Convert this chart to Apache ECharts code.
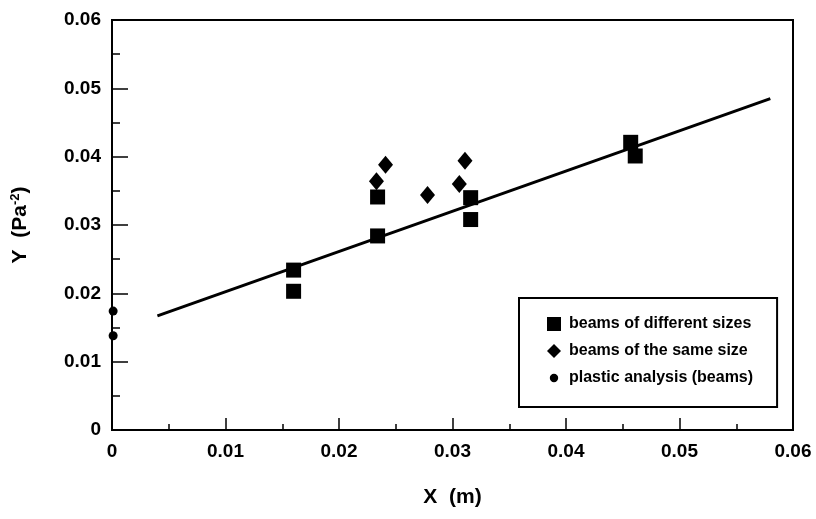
<!DOCTYPE html>
<html>
<head>
<meta charset="utf-8">
<script src="https://cdn.jsdelivr.net/npm/echarts@6/dist/echarts.min.js"></script>
<style>
  html, body { margin: 0; padding: 0; background: #fff; }
  #echarts_container { width: 816px; height: 519px; }
</style>
</head>
<body>
<div id="echarts_container"></div>
<script>
var chartDom = document.getElementById('echarts_container');
var myChart = echarts.init(chartDom);
var option;

// beams of different sizes (squares)
let diffX = [0.0160, 0.0160, 0.0234, 0.0234, 0.0316, 0.0316, 0.0457, 0.0461]
let diffY = [0.0234, 0.0203, 0.0284, 0.0341, 0.0340, 0.0308, 0.0421, 0.0401]
// beams of the same size (diamonds)
let sameX = [0.0233, 0.0241, 0.0278, 0.0306, 0.0311]
let sameY = [0.0364, 0.0388, 0.0344, 0.0360, 0.0394]
// plastic analysis (circles)
let plasticX = [0.0001, 0.0001]
let plasticY = [0.0174, 0.0138]
// fitted line ends
let fitX = [0.004, 0.058]
let fitY = [0.0167, 0.0485]

const pairs = (xs, ys) => xs.map((x, i) => [x, ys[i]])

const fontName = 'Liberation Sans, Arial, sans-serif'
const tickFmt = v => v === 0 ? '0' : v.toFixed(2)

option = {
    animation: false,
    backgroundColor: '#fff',
    grid: {
        left: 112,
        right: 23,
        top: 20,
        bottom: 89,
        show: true,
        borderColor: '#000',
        borderWidth: 2
    },
    legend: {
        orient: 'vertical',
        left: 519,
        top: 298,
        data: [
            { name: 'beams of different sizes', icon: 'rect' },
            { name: 'beams of the same size', icon: 'diamond' },
            { name: 'plastic analysis (beams)', icon: 'path://M0,0L0.01,0M20,20L20.01,20M4,10a6,6 0 1,0 12,0a6,6 0 1,0 -12,0' }
        ],
        itemWidth: 14,
        itemHeight: 14,
        itemGap: 11,
        padding: [18, 24, 21, 28],
        borderColor: '#000',
        borderWidth: 2,
        backgroundColor: '#fff',
        textStyle: {
            fontFamily: fontName,
            fontWeight: 'bold',
            fontSize: 16,
            lineHeight: 14,
            padding: [0, 0, 0, 3],
            color: '#000'
        }
    },
    xAxis: {
        type: 'value',
        min: 0,
        max: 0.06,
        interval: 0.01,
        name: 'X  (m)',
        nameLocation: 'middle',
        nameGap: 57,
        nameTextStyle: { fontFamily: fontName, fontWeight: 'bold', fontSize: 21, color: '#000' },
        axisLine: { lineStyle: { color: '#000', width: 2 } },
        axisTick: { inside: true, length: 12, lineStyle: { color: '#000', width: 1.5 } },
        minorTick: { show: true, splitNumber: 2, length: 6, lineStyle: { color: '#000', width: 1.5 } },
        axisLabel: { formatter: tickFmt, margin: 12, fontFamily: fontName, fontWeight: 'bold', fontSize: 19, color: '#000' },
        splitLine: { show: false }
    },
    yAxis: {
        type: 'value',
        min: 0,
        max: 0.06,
        interval: 0.01,
        name: '{a|Y  (Pa}{s|-2}{a|)}',
        nameLocation: 'middle',
        nameGap: 80,
        nameTextStyle: {
            rich: {
                a: { fontFamily: fontName, fontWeight: 'bold', fontSize: 21, color: '#000' },
                s: { fontFamily: fontName, fontWeight: 'bold', fontSize: 13, color: '#000', verticalAlign: 'top', padding: [0, 0, 10, 0] }
            }
        },
        axisLine: { lineStyle: { color: '#000', width: 2 } },
        axisTick: { inside: true, length: 16, lineStyle: { color: '#000', width: 1.5 } },
        minorTick: { show: true, splitNumber: 2, length: 8, lineStyle: { color: '#000', width: 1.5 } },
        axisLabel: { formatter: tickFmt, margin: 11, fontFamily: fontName, fontWeight: 'bold', fontSize: 19, color: '#000' },
        splitLine: { show: false }
    },
    series: [
        {
            name: 'fit',
            type: 'line',
            data: pairs(fitX, fitY),
            showSymbol: false,
            lineStyle: { color: '#000', width: 3 },
            z: 1
        },
        {
            name: 'beams of different sizes',
            type: 'scatter',
            symbol: 'rect',
            symbolSize: 15,
            data: pairs(diffX, diffY),
            itemStyle: { color: '#000', opacity: 1 },
            z: 3
        },
        {
            name: 'beams of the same size',
            type: 'scatter',
            symbol: 'diamond',
            symbolSize: [15, 18],
            data: pairs(sameX, sameY),
            itemStyle: { color: '#000', opacity: 1 },
            z: 2
        },
        {
            name: 'plastic analysis (beams)',
            type: 'scatter',
            symbol: 'circle',
            symbolSize: 9,
            data: pairs(plasticX, plasticY),
            itemStyle: { color: '#000', opacity: 1 },
            z: 4
        }
    ]
};

option && myChart.setOption(option);
</script>
</body>
</html>
